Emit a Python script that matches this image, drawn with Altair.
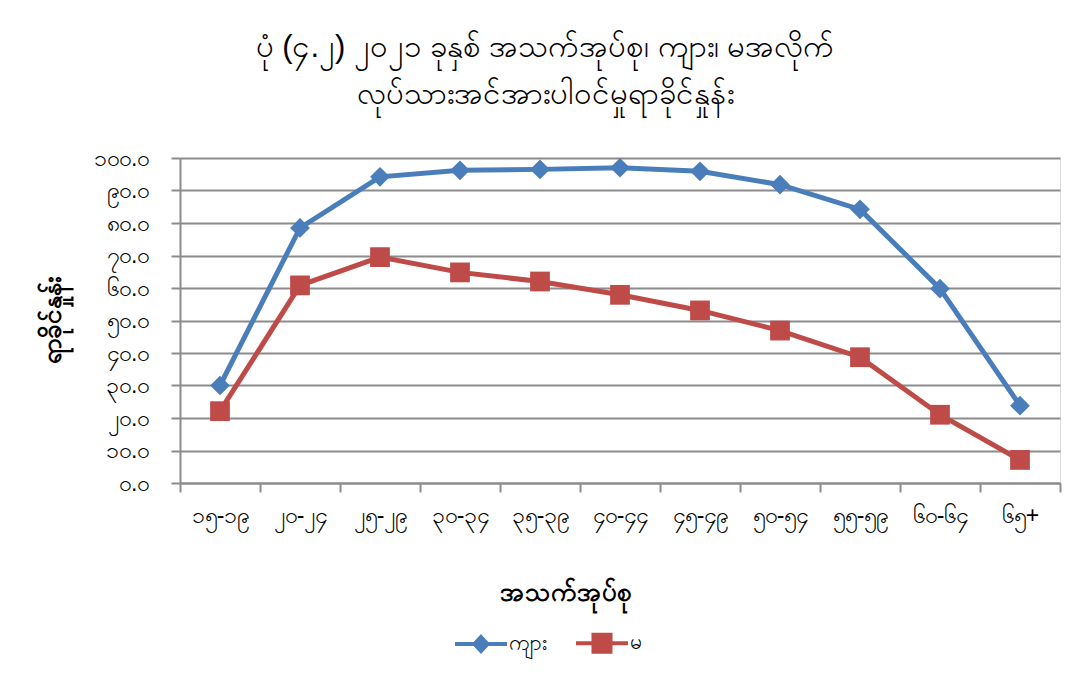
import altair as alt
import pandas as pd

age_groups = ["၁၅-၁၉", "၂၀-၂၄", "၂၅-၂၉", "၃၀-၃၄", "၃၅-၃၉", "၄၀-၄၄",
              "၄၅-၄၉", "၅၀-၅၄", "၅၅-၅၉", "၆၀-၆၄", "၆၅+"]
male = [30.0, 78.5, 94.2, 96.2, 96.5, 97.0, 95.9, 91.8, 84.2, 59.8, 23.8]
female = [22.1, 60.8, 69.5, 64.8, 62.0, 57.9, 53.1, 46.9, 38.7, 21.0, 7.1]
series_names = ["ကျား", "မ"]
series_colors = ["#4A7EBB", "#BE4B48"]
point_shapes = ["diamond", "square"]
y_ticks = [0, 10, 20, 30, 40, 50, 60, 70, 80, 90, 100]
y_tick_labels = ["၀.၀", "၁၀.၀", "၂၀.၀", "၃၀.၀", "၄၀.၀", "၅၀.၀",
                 "၆၀.၀", "၇၀.၀", "၈၀.၀", "၉၀.၀", "၁၀၀.၀"]
title_lines = ["ပုံ (၄.၂) ၂၀၂၁ ခုနှစ် အသက်အုပ်စု၊ ကျား၊ မအလိုက်",
               "လုပ်သားအင်အားပါဝင်မှုရာခိုင်နှုန်း"]
x_title = "အသက်အုပ်စု"
y_title = "ရာခိုင်နှုန်း"

rows = []
for s, vals in zip(series_names, [male, female]):
    for a, v in zip(age_groups, vals):
        rows.append({"age": a, "series": s, "value": v})
df = pd.DataFrame(rows)

label_expr = "[" + ",".join("'" + t + "'" for t in y_tick_labels) + "][round(datum.value/10)]"

x_enc = alt.X("age:N", sort=age_groups,
              scale=alt.Scale(paddingInner=0, paddingOuter=0),
              axis=alt.Axis(title=x_title, labelAngle=0, tickBand="extent",
                            grid=False, tickSize=9, labelPadding=12,
                            labelFontSize=23, titleFontSize=26, titleFontWeight="bold",
                            titleX=385, titleY=109, titleAnchor="middle",
                            titleBaseline="middle",
                            domainColor="#8c8c8c", tickColor="#8c8c8c",
                            domainWidth=2, tickWidth=2, labelColor="#000000",
                            titleColor="#000000"))
y_enc = alt.Y("value:Q",
              scale=alt.Scale(domain=[0, 100], nice=False),
              axis=alt.Axis(title=y_title, values=y_ticks, labelExpr=label_expr,
                            grid=True, gridColor="#8c8c8c", gridWidth=2,
                            tickSize=9, tickColor="#8c8c8c", tickWidth=2,
                            domainColor="#8c8c8c", domainWidth=2,
                            labelPadding=22, labelFontSize=23, labelColor="#000000",
                            titleFontSize=26, titleFontWeight="bold", titleColor="#000000",
                            titleAngle=270, titleX=-128, titleY=162,
                            titleAlign="center", titleBaseline="middle"))
color_scale = alt.Scale(domain=series_names, range=series_colors)


def make_legend():
    return alt.Legend(orient="none", direction="horizontal", title=None,
                      legendX=289, legendY=473,
                      symbolSize=400, symbolStrokeWidth=4,
                      symbolOpacity=1, labelFontSize=21,
                      labelOffset=16, columnPadding=20,
                      labelColor="#000000")


base = alt.Chart(df)

lines = base.mark_line(strokeWidth=5).encode(
    x=x_enc, y=y_enc,
    color=alt.Color("series:N", scale=color_scale, legend=make_legend()),
)
point_layers = []
for s, shp in zip(series_names, point_shapes):
    point_layers.append(
        base.transform_filter(alt.datum.series == s).mark_point(
            filled=True, opacity=1, shape=shp, size=390
        ).encode(
            x=x_enc, y=y_enc,
            color=alt.Color("series:N", scale=color_scale, legend=make_legend()),
        )
    )

legend_paths = ["M-2.6,0H2.6M0,-0.7L0.65,0L0,0.7L-0.65,0Z",
                "M-2.6,0H2.6M-0.85,-0.85H0.85V0.85H-0.85Z"]

legend_layer = base.mark_point(filled=True, opacity=0, strokeWidth=4).encode(
    x=x_enc, y=y_enc,
    color=alt.Color("series:N", scale=color_scale, legend=make_legend()),
    stroke=alt.Stroke("series:N", scale=color_scale, legend=make_legend()),
    shape=alt.Shape("series:N", scale=alt.Scale(domain=series_names, range=legend_paths),
                    legend=make_legend()),
)

chart = alt.layer(lines, *point_layers, legend_layer).properties(
    width=880, height=325,
    autosize=alt.AutoSizeParams(type="none"),
    padding={"left": 172, "top": 150, "right": 13, "bottom": 190},
    title=alt.TitleParams(text=title_lines, anchor="middle", fontSize=31,
                          fontWeight="normal", color="#000000", dx=-75,
                          lineHeight=47, offset=36),
).configure_view(stroke=None).configure(background="white")

chart.save("out.html", embed_options={"renderer": "svg", "actions": False})
